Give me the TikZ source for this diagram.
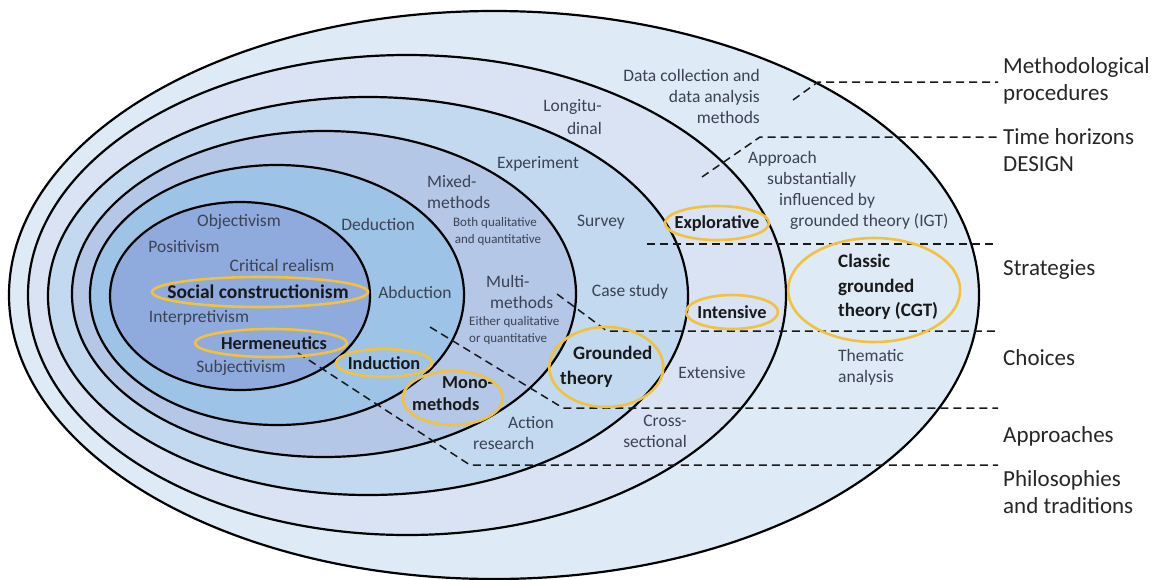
\documentclass[tikz,border=0pt]{standalone}
\usepackage{fontspec}
\setmainfont{Carlito}
\usepackage{tikz}

\definecolor{ringA}{HTML}{DEEAF6}
\definecolor{ringB}{HTML}{D9E3F3}
\definecolor{ringC}{HTML}{C2D9EF}
\definecolor{ringD}{HTML}{B4C7E7}
\definecolor{ringE}{HTML}{9DC3E6}
\definecolor{ringF}{HTML}{8FAADC}
\definecolor{gold}{HTML}{F2C13E}
\definecolor{inktext}{HTML}{3C4254}

\tikzset{
    ring/.style={draw=black, line width=2.2pt},
    band/.style={draw=black!90, line width=1.5pt, dash pattern=on 8pt off 5pt},
    goldring/.style={draw=gold, line width=2.6pt},
    lbl/.style={font=\fontsize{17.5}{21}\selectfont, text=inktext, inner sep=0pt},
    tinylbl/.style={font=\fontsize{13}{17}\selectfont, text=inktext, inner sep=0pt},
    boldlbl/.style={font=\fontsize{18.3}{22}\selectfont\bfseries, text=black!90, inner sep=0pt},
    biglbl/.style={font=\fontsize{19}{24.5}\selectfont\bfseries, text=black!90, inner sep=0pt},
    sidelbl/.style={font=\fontsize{23}{26.5}\selectfont, text=black!85, inner sep=0pt, anchor=west, align=left}
}

\begin{document}
\begin{tikzpicture}[x=1pt, y=-1pt]
            \useasboundingbox (0,0) rectangle (1158,579);

            \filldraw[ring, fill=ringA] (494,295) ellipse [x radius=485pt, y radius=284pt];
            \filldraw[ring, fill=ringB] (407,295) ellipse [x radius=379pt, y radius=240pt];
            \filldraw[ring, fill=ringC] (368,296) ellipse [x radius=320pt, y radius=199pt];
            \filldraw[ring, fill=ringD] (324,294) ellipse [x radius=252pt, y radius=163pt];
            \filldraw[ring, fill=ringE] (277,295) ellipse [x radius=187pt, y radius=130pt];
            \filldraw[ring, fill=ringF] (240,296) ellipse [x radius=130pt, y radius=94pt];

            \node[sidelbl] (methproc) at (1003,81) {Methodological\\procedures};
            \node[sidelbl] (timehor) at (1003,150) {Time horizons\\DESIGN};
            \node[sidelbl] (strategies) at (1003,270) {Strategies};
            \node[sidelbl] (choices) at (1003,358) {Choices};
            \node[sidelbl] (approaches) at (1003,436) {Approaches};
            \node[sidelbl] (philos) at (1003,492) {Philosophies\\and traditions};

            \coordinate (mp0) at (793,100);
            \coordinate (mp1) at (818,82);
            \coordinate (th0) at (702,177);
            \coordinate (th1) at (760,137);
            \coordinate (st0) at (647,244);
            \coordinate (ch0) at (557,294);
            \coordinate (ch1) at (607,331);
            \coordinate (ap0) at (430,327);
            \coordinate (ap1) at (563,408);
            \coordinate (ph0) at (298,353);
            \coordinate (ph1) at (470,465);

            \draw[band] (mp0) -- (mp1) -- ([xshift=-5pt]mp1 -| methproc.west);
            \draw[band] (th0) -- (th1) -- ([xshift=-5pt]th1 -| timehor.west);
            \draw[band] (st0) -- ([xshift=-5pt]st0 -| strategies.west);
            \draw[band] (ch0) -- (ch1) -- ([xshift=-5pt]ch1 -| choices.west);
            \draw[band] (ap0) -- (ap1) -- ([xshift=-5pt]ap1 -| approaches.west);
            \draw[band] (ph0) -- (ph1) -- ([xshift=-5pt]ph1 -| philos.west);

            \node[lbl, anchor=east, align=right] (datacoll) at (760,96) {Data collection and\\data analysis\\methods};
            \node[lbl, anchor=east, align=right, font=\fontsize{17.5}{23}\selectfont] (longit) at (602,117) {Longitu-\\dinal};
            \node[lbl] (experiment) at (538,164) {Experiment};
            \node[lbl, anchor=west, align=left] (mixed) at (427,192) {Mixed-\\methods};
            \node[tinylbl, align=center] (bothq) at (495,232) {Both qualitative\\\hspace*{6pt}and quantitative};
            \node[lbl] (survey) at (601,222) {Survey};
            \node[boldlbl] (explorative) at (717,223) {Explorative};
            \node[lbl, anchor=west, align=left] (igt) at (748,190) {Approach\\\hspace*{19pt}substantially\\\hspace*{31pt}influenced by\\\hspace*{42pt}grounded theory (IGT)};
            \node[lbl] (deduction) at (378,224) {Deduction};
            \node[lbl] (objectivism) at (239,222) {Objectivism};
            \node[lbl] (positivism) at (184,247) {Positivism};
            \node[lbl] (critreal) at (282,265) {Critical realism};
            \node[boldlbl, font=\fontsize{19.5}{22}\selectfont\bfseries] (socialc) at (258,292) {Social constructionism};
            \node[lbl] (abduction) at (415,292) {Abduction};
            \node[lbl] (interpretivism) at (199,318) {Interpretivism};
            \node[boldlbl] (hermeneutics) at (274,343) {Hermeneutics};
            \node[lbl] (subjectivism) at (241,368) {Subjectivism};
            \node[boldlbl] (induction) at (384,363) {Induction};
            \node[lbl, anchor=west, align=left] (multi) at (486,292) {Multi-\\\hspace*{4pt}methods};
            \node[tinylbl, anchor=west, align=left] (eitherq) at (469,331) {Either qualitative\\or quantitative};
            \node[lbl] (casestudy) at (630,292) {Case study};
            \node[boldlbl] (intensive) at (732,312) {Intensive};
            \node[biglbl, anchor=west, align=left] (grounded) at (560,367) {\hspace*{13pt}Grounded\\theory};
            \node[boldlbl, anchor=west, align=left] (mono) at (412,394) {\hspace*{30pt}Mono-\\methods};
            \node[lbl] (extensive) at (712,373) {Extensive};
            \node[lbl, anchor=west, align=left] (action) at (473,433) {\hspace*{35pt}Action\\research};
            \node[lbl, anchor=east, align=right] (cross) at (687,431) {Cross-\\sectional};
            \node[lbl, anchor=west, align=left] (thematic) at (838,367) {Thematic\\analysis};
            \node[biglbl, anchor=west, align=left] (cgt) at (838,287) {Classic\\grounded\\theory (CGT)};

            \draw[goldring] (explorative) ellipse [x radius=52pt, y radius=17pt];
            \draw[goldring] ([xshift=2pt]socialc.center) ellipse [x radius=108pt, y radius=15pt];
            \draw[goldring] ([xshift=-3pt]hermeneutics.center) ellipse [x radius=76pt, y radius=14pt];
            \draw[goldring] (induction) ellipse [x radius=48pt, y radius=14pt];
            \draw[goldring] (intensive) ellipse [x radius=46pt, y radius=17pt];
            \draw[goldring] (grounded) ellipse [x radius=57pt, y radius=40pt];
            \draw[goldring] ([yshift=-4pt]mono.center) ellipse [x radius=50pt, y radius=27pt];
            \draw[goldring] ([xshift=-14pt,yshift=-3pt]cgt.center) ellipse [x radius=86pt, y radius=52pt];
\end{tikzpicture}
\end{document}
